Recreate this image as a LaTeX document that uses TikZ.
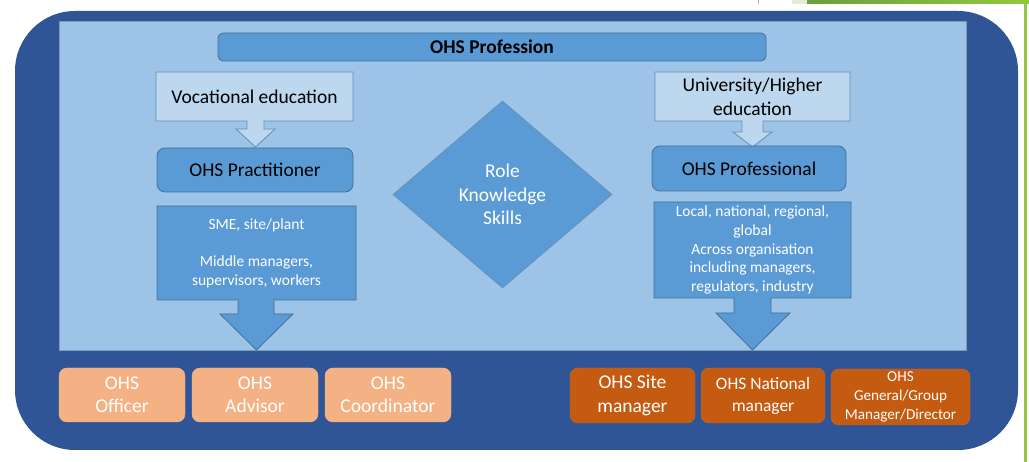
\documentclass[tikz,border=0pt]{standalone}
\usepackage{fontspec}
\setmainfont{Carlito}
\usetikzlibrary{shapes.geometric}
\definecolor{darkblue}{HTML}{2F5597}
\definecolor{lightbg}{HTML}{9DC3E6}
\definecolor{midblue}{HTML}{5B9BD5}
\definecolor{edgeblue}{HTML}{41719C}
\definecolor{paleblue}{HTML}{BDD7EE}
\definecolor{lightorange}{HTML}{F4B183}
\definecolor{darkorange}{HTML}{C55A11}
\definecolor{greenA}{HTML}{E3ECD6}
\definecolor{greenB}{HTML}{6E9E3E}
\definecolor{greenC}{HTML}{92C83E}
\tikzset{
  big/.style={font=\fontsize{19.5}{23.4}\selectfont},
  small/.style={font=\fontsize{15.5}{18.7}\selectfont},
  txt/.style={inner sep=0pt, align=center},
  bluebox/.style={fill=midblue, draw=edgeblue, line width=0.8pt},
  palebox/.style={fill=paleblue, draw=edgeblue!80, line width=0.8pt},
  roundbox/.style={bluebox, rounded corners=8pt, inner sep=0pt},
  lobox/.style={fill=lightorange, draw=lightorange!90!white, rounded corners=8pt, inner sep=0pt, text=white, big, align=center},
  dobox/.style={fill=darkorange, draw=darkorange!90!white, rounded corners=8pt, inner sep=0pt, text=white, align=center},
}
\begin{document}
\begin{tikzpicture}[x=1pt,y=-1pt]
\useasboundingbox (0,0) rectangle (1029,462);
\fill[white] (0,0) rectangle (1029,462);
% slide decorations
\fill[greenA] (792,0) rectangle (807,4);
\shade[left color=greenB, right color=greenC] (807,0) rectangle (1029,4);
\fill[greenC] (1024,0) rectangle (1027,462);
\draw[gray!60, line width=0.8pt] (758,0) -- (758,4);
% frames
\fill[darkblue, rounded corners=60pt] (15,11) rectangle (1018,450);
\draw[fill=lightbg, draw=edgeblue!70, line width=0.6pt] (59,21) rectangle (966,350);
% top bar
\node[bluebox, rounded corners=5pt, minimum width=548pt, minimum height=28pt, inner sep=0pt,
      font=\bfseries\fontsize{19.5}{22}\selectfont] (prof) at (492,47) {OHS Profession};
% vocational callout
\draw[palebox] (156,72) -- (353,72) -- (353,121) -- (264,121) -- (264,129) -- (275,129)
  -- (255.5,147) -- (236,129) -- (247,129) -- (247,121) -- (156,121) -- cycle;
\node[txt, big] (voc) at (254.5,97) {Vocational education};
% university callout
\draw[palebox] (655,72) -- (850,72) -- (850,121) -- (763,121) -- (763,132) -- (772,132)
  -- (752.5,147) -- (733,132) -- (742,132) -- (742,121) -- (655,121) -- cycle;
\node[txt, big] (uni) at (752.5,97) {University/Higher\\education};
% practitioner / professional
\node[roundbox, minimum width=196pt, minimum height=44pt, big] (prac) at (255,170) {OHS Practitioner};
\node[roundbox, minimum width=194pt, minimum height=45pt, big] (pro) at (749,168.5) {OHS Professional};
% diamond
\node[diamond, fill=midblue, draw=edgeblue!80, line width=0.6pt, minimum width=219pt,
      minimum height=187pt, inner sep=0pt, text=white, big, align=center] (rks) at (502.5,194.5)
      {Role\\Knowledge\\Skills};
% SME callout
\draw[bluebox] (157,206) -- (356,206) -- (356,300) -- (274,300) -- (274,314) -- (293,314)
  -- (256.5,350) -- (220,314) -- (238,314) -- (238,300) -- (157,300) -- cycle;
\node[txt, small, text=white] (sme) at (256.5,253)
  {SME, site/plant\\[18.7pt]Middle managers,\\supervisors, workers};
% Local callout
\draw[bluebox] (654,202) -- (851,202) -- (851,298) -- (771,298) -- (771,313) -- (790,313)
  -- (752.5,350) -- (716,313) -- (734,313) -- (734,298) -- (654,298) -- cycle;
\node[txt, small, text=white] (loc) at (752.5,250)
  {Local, national, regional,\\global\\Across organisation\\including managers,\\regulators, industry};
% bottom roles
\node[lobox, minimum width=126pt, minimum height=54pt] (off) at (122,395) {OHS\\Officer};
\node[lobox, minimum width=126pt, minimum height=54pt] (adv) at (255,395) {OHS\\Advisor};
\node[lobox, minimum width=126pt, minimum height=54pt] (coo) at (388,395) {OHS\\Coordinator};
\node[dobox, minimum width=125pt, minimum height=55pt, big] (site) at (632.5,395.5) {OHS Site\\manager};
\node[dobox, minimum width=124pt, minimum height=55pt, font=\fontsize{17.4}{22}\selectfont] (nat) at (763,395.5) {OHS National\\manager};
\node[dobox, minimum width=139pt, minimum height=56pt, font=\fontsize{15.2}{19}\selectfont] (gen) at (900.5,397) {OHS\\General/Group\\Manager/Director};
\end{tikzpicture}
\end{document}
